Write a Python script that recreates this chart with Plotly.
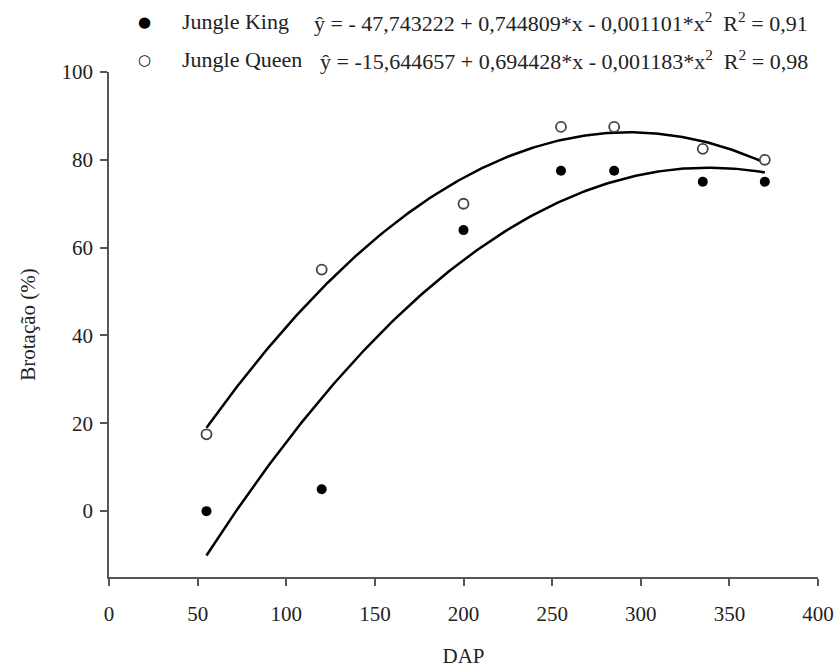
import numpy as np
import plotly.graph_objects as go

# Data
dap = [55, 120, 200, 255, 285, 335, 370]
king = [0, 5, 64, 77.5, 77.5, 75, 75]
queen = [17.5, 55, 70, 87.5, 87.5, 82.5, 80]

# Fitted quadratic coefficients shown in the legend (b0, b1, b2)
king_coef = [-47.743222, 0.744809, -0.001101]
queen_coef = [-15.644657, 0.694428, -0.001183]
king_r2 = "0,91"
queen_r2 = "0,98"

x_ticks = [0, 50, 100, 150, 200, 250, 300, 350, 400]
y_ticks = [0, 20, 40, 60, 80, 100]

FONT = "Liberation Serif"
TXT = "#222"
W, H = 835, 668
ML, MR, MT, MB = 109, 17, 72, 91

xs = np.linspace(min(dap), max(dap), 200)


def quad(c, x):
    return c[0] + c[1] * x + c[2] * x ** 2


fig = go.Figure()
fig.add_trace(go.Scatter(x=xs, y=quad(king_coef, xs), mode="lines",
                         line=dict(color="black", width=2.5), showlegend=False))
fig.add_trace(go.Scatter(x=xs, y=quad(queen_coef, xs), mode="lines",
                         line=dict(color="black", width=2.5), showlegend=False))
fig.add_trace(go.Scatter(x=dap, y=king, mode="markers", name="Jungle King",
                         marker=dict(color="black", size=10, symbol="circle"),
                         showlegend=False))
fig.add_trace(go.Scatter(x=dap, y=queen, mode="markers", name="Jungle Queen",
                         marker=dict(color="white", size=10, symbol="circle",
                                     line=dict(color="#444", width=1.8)),
                         showlegend=False))

axis_common = dict(showgrid=False, zeroline=False, showline=True, automargin=False,
                   linecolor="#555", linewidth=1.5, ticks="outside",
                   ticklen=7, tickwidth=1.5, tickcolor="#555",
                   tickfont=dict(family=FONT, size=21, color=TXT))

fig.update_xaxes(range=[0, 400], tickvals=x_ticks, ticklabelstandoff=10,
                 title=dict(text="DAP", font=dict(family=FONT, size=21, color=TXT),
                            standoff=26),
                 **axis_common)
fig.update_yaxes(range=[-15, 100], tickvals=y_ticks, ticklabelstandoff=3,
                 title=dict(text="Brotação (%)", font=dict(family=FONT, size=21, color=TXT),
                            standoff=20),
                 **axis_common)

pw = W - ML - MR
ph = H - MT - MB


def px(xp):
    return (xp - ML) / pw


def py(yp):
    return (H - MB - yp) / ph


def fmt(v):
    return f"{abs(v):.6f}".replace(".", ",")


def eq(c, r2, lead_space):
    sign0 = "- " if c[0] < 0 and lead_space else ("-" if c[0] < 0 else "")
    s1 = "+" if c[1] >= 0 else "-"
    s2 = "+" if c[2] >= 0 else "-"
    return (f"ŷ = {sign0}{fmt(c[0])} {s1} {fmt(c[1])}*x {s2} {fmt(c[2])}*x<sup>2</sup>"
            f"  R<sup>2</sup> = {r2}")


rows = [
    (22, "Jungle King", eq(king_coef, king_r2, True), "●"),
    (60, "Jungle Queen", eq(queen_coef, queen_r2, False), "○"),
]
for yp, name, text, sym in rows:
    fig.add_annotation(x=px(144), y=py(yp), xref="paper", yref="paper",
                       text=sym, showarrow=False, xanchor="center", yanchor="middle",
                       font=dict(family="DejaVu Sans", size=15, color="black"))
    fig.add_annotation(x=px(180), y=py(yp), xref="paper", yref="paper",
                       text=name, showarrow=False, xanchor="left", yanchor="middle",
                       font=dict(family=FONT, size=22, color=TXT))
    fig.add_annotation(x=px(810), y=py(yp), xref="paper", yref="paper",
                       text=text, showarrow=False, xanchor="right", yanchor="middle",
                       font=dict(family=FONT, size=22, color=TXT))

fig.update_layout(width=W, height=H, margin=dict(l=ML, r=MR, t=MT, b=MB),
                  plot_bgcolor="white", paper_bgcolor="white",
                  font=dict(family=FONT, size=21, color=TXT))

fig.write_html("out.html")
